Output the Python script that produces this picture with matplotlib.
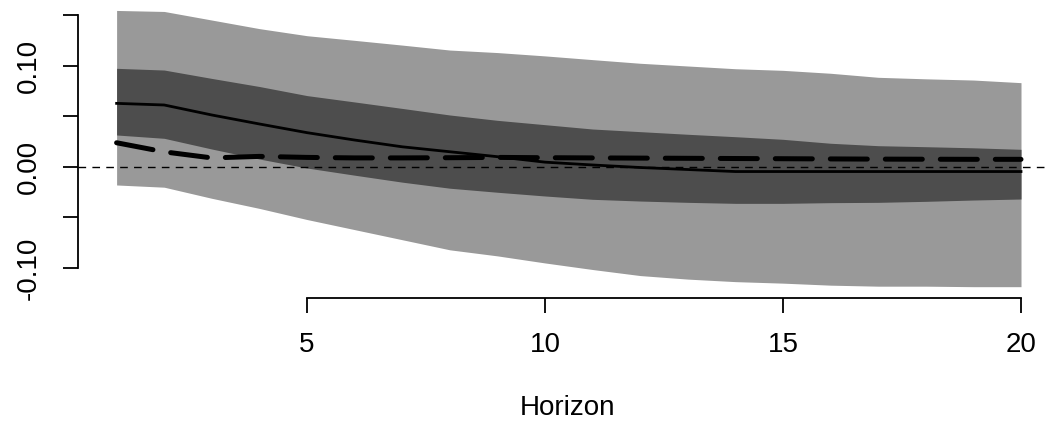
import numpy as np
import matplotlib
matplotlib.use("Agg")
import matplotlib.pyplot as plt

plt.rcParams['font.family'] = ['Liberation Sans', 'DejaVu Sans']

# impulse response by horizon
horizon = list(range(1, 21))
outer_hi = [0.155, 0.154, 0.1455, 0.137, 0.130, 0.1254, 0.1207, 0.1158, 0.1133, 0.110,
            0.1063, 0.1027, 0.100, 0.0973, 0.0957, 0.0928, 0.0888, 0.0873, 0.0861, 0.0835]
outer_lo = [-0.0178, -0.020, -0.031, -0.041, -0.052, -0.062, -0.072, -0.082, -0.088, -0.095,
            -0.1015, -0.1075, -0.111, -0.1135, -0.115, -0.117, -0.118, -0.118, -0.1185, -0.1185]
inner_hi = [0.0977, 0.096, 0.0877, 0.0797, 0.0707, 0.0644, 0.058, 0.0515, 0.0462, 0.0419,
            0.0376, 0.035, 0.0324, 0.030, 0.0274, 0.0235, 0.0211, 0.0201, 0.019, 0.0175]
inner_lo = [0.0317, 0.0284, 0.0178, 0.0079, -0.001, -0.0081, -0.015, -0.021, -0.025, -0.0287,
            -0.032, -0.0337, -0.035, -0.036, -0.036, -0.0353, -0.035, -0.034, -0.0327, -0.0317]
median = [0.063, 0.0614, 0.0515, 0.0426, 0.034, 0.0267, 0.020, 0.0151, 0.0102, 0.0048,
          0.002, -0.0005, -0.0025, -0.0045, -0.0045, -0.0045, -0.0045, -0.0045, -0.0045, -0.0045]
other = [0.024, 0.015, 0.009, 0.0105, 0.0095, 0.009, 0.009, 0.0092, 0.0095, 0.0092,
         0.009, 0.0088, 0.0086, 0.0084, 0.0082, 0.008, 0.0078, 0.0077, 0.0076, 0.0076]

x_ticks = [5, 10, 15, 20]
y_ticks = [-0.10, -0.05, 0.00, 0.05, 0.10, 0.15]
y_labels = ["-0.10", "", "0.00", "", "0.10", ""]

W, H = 1047, 423
fig = plt.figure(figsize=(W / 100, H / 100), dpi=100)
# plot region in pixels: x 78..1057 (runs off the right edge), y 0..298
ax = fig.add_axes([78 / W, (H - 298) / H, (1057 - 78) / W, 298 / H])

ax.fill_between(horizon, outer_lo, outer_hi, color='#999999', lw=0)
ax.fill_between(horizon, inner_lo, inner_hi, color='#4d4d4d', lw=0)
ax.plot(horizon, median, color='black', lw=2.0)
ax.plot(horizon, other, color='black', lw=3.6, dashes=(7.4, 3.6), dash_capstyle='round')
ax.axhline(0, color='black', lw=1.0, dashes=(5.5, 4.5))

ax.set_xlim(1 - (116.6 - 78) / 47.6, 20 + (1057 - 1021) / 47.6)
ax.set_ylim((167 - 298) / 1010, 167 / 1010)

for s in ['top', 'right']:
    ax.spines[s].set_visible(False)
ax.spines['left'].set_bounds(-0.10, 0.15)
ax.spines['bottom'].set_bounds(5, 20)
for s in ['left', 'bottom']:
    ax.spines[s].set_linewidth(1.3)

ax.set_xticks(x_ticks)
ax.set_xticklabels([str(t) for t in x_ticks])
ax.set_yticks(y_ticks)
ax.set_yticklabels(y_labels, rotation=90, va='center')
ax.tick_params(axis='both', direction='out', length=10.8, width=1.3, labelsize=20)
ax.tick_params(axis='y', pad=15)
ax.tick_params(axis='x', pad=14)

ax.set_xlabel("Horizon", fontsize=20)
ax.xaxis.set_label_coords(0.5, -(408 - 298) / 298)
ax.xaxis.label.set_va('center')

fig.savefig("out.png", dpi=100)
